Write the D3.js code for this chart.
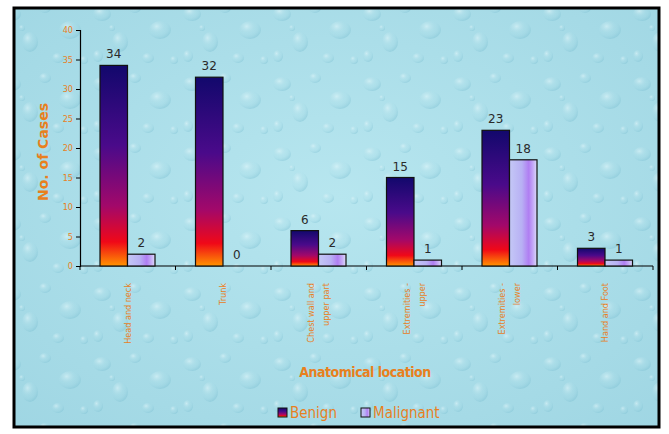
<!DOCTYPE html>
<html>
<head>
<meta charset="utf-8">
<script src="https://cdn.jsdelivr.net/npm/d3@7"></script>
<style>
  html, body { margin: 0; padding: 0; background: #fff; }
  svg { display: block; }
</style>
</head>
<body>
<svg id="chart" width="669" height="434"></svg>
<script>
// Lesion counts by anatomical location
const categories = [
  ["Head and neck"],
  ["Trunk"],
  ["Chest wall and", "upper part"],
  ["Extremities -", "upper"],
  ["Extremities -", "lower"],
  ["Hand and Foot"]
];
const benign = [34, 32, 6, 15, 23, 3];
const malignant = [2, 0, 2, 1, 18, 1];
const seriesNames = ["Benign", "Malignant"];
const yTicks = [0, 5, 10, 15, 20, 25, 30, 35, 40];

const orange = "#e8801e";
const svg = d3.select("#chart");
const defs = svg.append("defs");

// Background panel gradient and droplet texture
const bg = defs.append("radialGradient").attr("id", "bgGrad")
  .attr("cx", "50%").attr("cy", "45%").attr("r", "75%");
bg.append("stop").attr("offset", "0%").attr("stop-color", "#b7e6ef");
bg.append("stop").attr("offset", "100%").attr("stop-color", "#9fd6e3");

const drop = defs.append("radialGradient").attr("id", "dropGrad")
  .attr("cx", "35%").attr("cy", "30%").attr("r", "70%");
drop.append("stop").attr("offset", "0%").attr("stop-color", "#e6f8fb").attr("stop-opacity", 0.8);
drop.append("stop").attr("offset", "60%").attr("stop-color", "#a9dce7").attr("stop-opacity", 0.2);
drop.append("stop").attr("offset", "100%").attr("stop-color", "#7fc1d3").attr("stop-opacity", 0.6);

const pat = defs.append("pattern").attr("id", "drops")
  .attr("patternUnits", "userSpaceOnUse").attr("width", 90).attr("height", 70);
[[12, 14, 9, 7], [45, 8, 6, 5], [70, 30, 11, 9], [30, 42, 8, 10], [58, 58, 6, 5],
 [8, 56, 5, 6], [84, 60, 4, 4], [22, 28, 3, 3]].forEach(([cx, cy, rx, ry]) => {
  pat.append("ellipse").attr("cx", cx).attr("cy", cy).attr("rx", rx).attr("ry", ry)
    .attr("fill", "url(#dropGrad)");
});

// Vertical gradient for Benign bars
const gB = defs.append("linearGradient").attr("id", "gradBenign")
  .attr("x1", 0).attr("y1", 0).attr("x2", 0).attr("y2", 1);
[["0%", "#12086c"], ["40%", "#4a0a8a"], ["70%", "#a2086a"], ["88%", "#f00818"], ["100%", "#ff9400"]]
  .forEach(([o, c]) => gB.append("stop").attr("offset", o).attr("stop-color", c));

// Horizontal gradient for Malignant bars
const gM = defs.append("linearGradient").attr("id", "gradMalig")
  .attr("x1", 0).attr("y1", 0).attr("x2", 1).attr("y2", 0);
[["0%", "#c4c8f6"], ["45%", "#b8b0f4"], ["70%", "#b07ef2"], ["85%", "#c4a8f6"], ["100%", "#dadcf8"]]
  .forEach(([o, c]) => gM.append("stop").attr("offset", o).attr("stop-color", c));

// Framed panel
svg.append("rect").attr("x", 14).attr("y", 8).attr("width", 645).attr("height", 419)
  .attr("fill", "url(#bgGrad)");
svg.append("rect").attr("x", 14).attr("y", 8).attr("width", 645).attr("height", 419)
  .attr("fill", "url(#drops)").attr("opacity", 0.7);
svg.append("rect").attr("x", 14).attr("y", 8).attr("width", 645).attr("height", 419)
  .attr("fill", "none").attr("stroke", "#000").attr("stroke-width", 3);

// Scales
const plot = { left: 80, right: 653, top: 30, bottom: 266 };
const x = d3.scaleBand().domain(d3.range(categories.length))
  .range([plot.left, plot.right]).paddingInner(0).paddingOuter(0);
const y = d3.scaleLinear().domain([0, 40]).range([plot.bottom, plot.top]);
const barW = 27.5;
const offsets = [20, 20 + barW];

// Axes
const yAxis = svg.append("g").attr("transform", `translate(${plot.left},0)`)
  .call(d3.axisLeft(y).tickValues(yTicks).tickSize(4).tickPadding(3));
yAxis.select(".domain").attr("stroke", "#000").attr("stroke-width", 1.2);
yAxis.selectAll(".tick line").attr("stroke", "#000");
yAxis.selectAll(".tick text").attr("fill", orange)
  .style("font-family", "DejaVu Sans Condensed, DejaVu Sans, sans-serif").style("font-size", "9px");

const xAxis = svg.append("g").attr("transform", `translate(0,${plot.bottom})`);
xAxis.append("line").attr("x1", plot.left).attr("x2", plot.right)
  .attr("stroke", "#000").attr("stroke-width", 1.2);
xAxis.selectAll("line.tk").data(d3.range(categories.length + 1)).join("line")
  .attr("class", "tk")
  .attr("x1", i => plot.left + i * x.bandwidth()).attr("x2", i => plot.left + i * x.bandwidth())
  .attr("y1", 0).attr("y2", 4).attr("stroke", "#000");

// Bars
const series = [benign, malignant];
const fills = ["url(#gradBenign)", "url(#gradMalig)"];
series.forEach((vals, s) => {
  const g = svg.append("g");
  g.selectAll("rect").data(vals).join("rect")
    .attr("x", (d, i) => x(i) + offsets[s])
    .attr("y", d => y(d))
    .attr("width", barW)
    .attr("height", d => y(0) - y(d))
    .attr("fill", fills[s])
    .attr("stroke", d => d > 0 ? "#111" : "none")
    .attr("stroke-width", 1.2);
  g.selectAll("text").data(vals).join("text")
    .attr("x", (d, i) => x(i) + offsets[s] + barW / 2)
    .attr("y", d => y(d) - 7)
    .attr("text-anchor", "middle")
    .attr("fill", "#2a2a2a")
    .style("font-family", "DejaVu Sans, sans-serif").style("font-size", "12px")
    .text(d => d);
});

// Category labels, rotated
const catG = svg.append("g");
categories.forEach((lines, i) => {
  const cx = x(i) + x.bandwidth() / 2;
  const n = lines.length;
  lines.forEach((ln, k) => {
    const dx = (k - (n - 1) / 2) * 15;
    catG.append("text")
      .attr("transform", `translate(${cx + dx + 3},${plot.bottom + 17}) rotate(-90)`)
      .attr("text-anchor", "end")
      .attr("fill", orange)
      .style("font-family", "DejaVu Sans Condensed, DejaVu Sans, sans-serif")
      .style("font-size", "9px")
      .text(ln);
  });
});

// Axis titles
svg.append("text")
  .attr("transform", `translate(48,${(plot.top + plot.bottom) / 2 + 4}) rotate(-90)`)
  .attr("text-anchor", "middle").attr("fill", orange)
  .style("font-family", "DejaVu Sans, sans-serif").style("font-size", "14px").style("font-weight", "bold")
  .text("No. of Cases");
svg.append("text")
  .attr("x", 365).attr("y", 377)
  .attr("text-anchor", "middle").attr("fill", orange)
  .style("font-family", "DejaVu Sans Condensed, DejaVu Sans, sans-serif")
  .style("font-size", "14px").style("font-weight", "bold").style("letter-spacing", "-0.5px")
  .text("Anatomical location");

// Legend
const legend = svg.append("g");
const legendX = [278, 361];
seriesNames.forEach((name, s) => {
  legend.append("rect").attr("x", legendX[s]).attr("y", 408).attr("width", 9).attr("height", 9)
    .attr("fill", fills[s]).attr("stroke", "#111").attr("stroke-width", 1);
  legend.append("text").attr("x", legendX[s] + 12).attr("y", 418)
    .attr("fill", orange)
    .style("font-family", "DejaVu Sans Condensed, DejaVu Sans, sans-serif").style("font-size", "15px")
    .text(name);
});
</script>
</body>
</html>
